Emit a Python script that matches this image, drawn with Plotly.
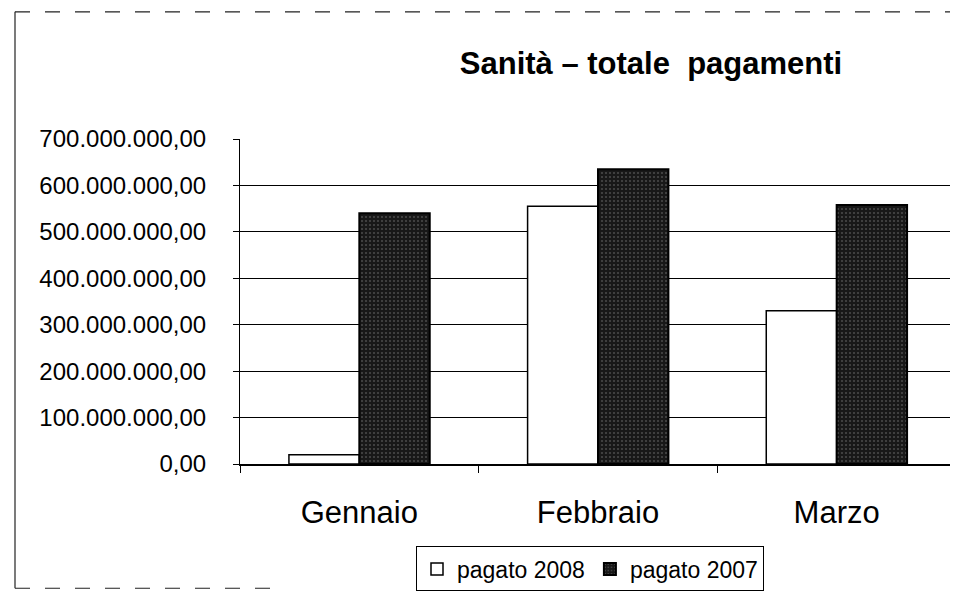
import plotly.graph_objects as go

# ---- data ----
categories = ["Gennaio", "Febbraio", "Marzo"]
pagato_2008 = [20_000_000, 555_000_000, 330_000_000]
pagato_2007 = [540_000_000, 635_000_000, 558_000_000]
series_names = ["pagato 2008", "pagato 2007"]
y_ticks = [0, 100_000_000, 200_000_000, 300_000_000, 400_000_000,
           500_000_000, 600_000_000, 700_000_000]
title_text = "Sanità – totale  pagamenti"

# ---- layout geometry (pixels) ----
W, H = 958, 594
L, R, T, B = 232, 948, 131, 458
FONT = "Arial, Liberation Sans, sans-serif"


def px_x(p):
    return (p - L) / (R - L)


def px_y(p):
    return (B - p) / (B - T)


fig = go.Figure()
fig.add_trace(go.Bar(
    name=series_names[0], x=categories, y=pagato_2008,
    marker=dict(color="white", line=dict(color="black", width=1.5)),
))
fig.add_trace(go.Bar(
    name=series_names[1], x=categories, y=pagato_2007,
    marker=dict(color="#181818", line=dict(color="black", width=2),
                pattern=dict(shape=".", fgcolor="#7a7a7a", bgcolor="#181818",
                             size=4, solidity=0.22)),
))

border = dict(color="#222", width=1.2)
shapes = [
    dict(type="line", xref="paper", yref="paper",
         x0=px_x(7), x1=px_x(7), y0=px_y(3), y1=px_y(583), line=border),
    dict(type="line", xref="paper", yref="paper",
         x0=px_x(7), x1=px_x(955), y0=px_y(3), y1=px_y(3),
         line=dict(color="#222", width=1.2, dash="longdash")),
    dict(type="line", xref="paper", yref="paper",
         x0=px_x(7), x1=px_x(270), y0=px_y(583), y1=px_y(583),
         line=dict(color="#222", width=1.2, dash="longdash")),
    dict(type="line", xref="paper", yref="paper",
         x0=1, x1=1, y0=0, y1=1,
         line=dict(color="#555", width=1, dash="dot")),
]

fig.update_layout(
    width=W, height=H,
    margin=dict(l=L, r=W - R, t=T, b=H - B, pad=0),
    paper_bgcolor="white", plot_bgcolor="white",
    separators=",.",
    barmode="group", bargap=0.41, bargroupgap=0,
    font=dict(family=FONT, color="black"),
    title=dict(text="<b>" + title_text.replace("  ", "&nbsp; ") + "</b>",
               x=643 / W, xanchor="center",
               xref="container", y=1 - 55 / H, yanchor="middle",
               yref="container", font=dict(size=31, family=FONT)),
    legend=dict(orientation="h", x=px_x(408), xanchor="left",
                y=px_y(541), yanchor="top",
                bordercolor="black", borderwidth=1, bgcolor="white",
                font=dict(size=23, family=FONT), itemwidth=30,
                traceorder="normal"),
    shapes=shapes,
)
fig.update_yaxes(range=[0, 700_000_000], tickvals=y_ticks, tickformat=",.2f",
                 showgrid=True, gridcolor="black", gridwidth=1,
                 showline=True, linecolor="black", linewidth=1,
                 ticks="outside", ticklen=6, tickcolor="black",
                 ticklabelstandoff=22, zeroline=False,
                 tickfont=dict(size=24, family=FONT))
fig.update_xaxes(showline=True, linecolor="black", linewidth=1.5,
                 ticks="outside", tickson="boundaries", ticklen=7,
                 tickcolor="black", ticklabelstandoff=20,
                 tickfont=dict(size=31, family=FONT))

fig.write_html("out.html")
